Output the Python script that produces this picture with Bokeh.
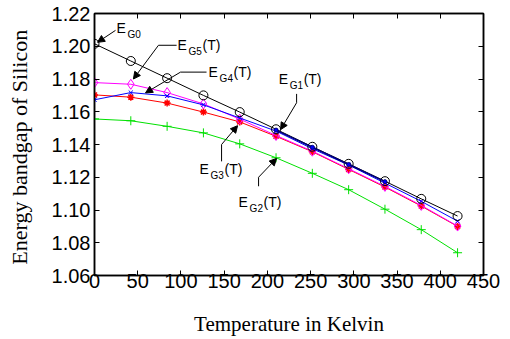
from bokeh.plotting import figure
from bokeh.models import (ColumnDataSource, LinearAxis, FixedTicker, Arrow, NormalHead,
                          NumeralTickFormatter, Range1d, CustomJSTickFormatter)
from bokeh.core.properties import value
from bokeh.embed import file_html
from bokeh.resources import INLINE

# ---- data ----
T = [0, 42, 84, 126, 168, 210, 252, 294, 336, 378, 420]
EG0 = [1.2015, 1.1910, 1.1805, 1.1700, 1.1598, 1.1493, 1.1386, 1.1282, 1.1176, 1.1068, 1.0963]
EG5 = [1.1778, 1.1768, 1.1717, 1.1648, 1.1555, 1.1455, 1.1359, 1.1252, 1.1144, 1.1028, 1.0902]
EG4 = [1.1673, 1.1717, 1.1697, 1.1642, 1.1562, 1.1482, 1.1374, 1.1275, 1.1164, 1.1053, 1.0932]
EG3 = [1.1703, 1.1689, 1.1653, 1.1598, 1.1538, 1.1450, 1.1356, 1.1248, 1.1140, 1.1024, 1.0900]
EG2 = [1.1556, 1.1545, 1.1511, 1.1471, 1.1404, 1.1319, 1.1224, 1.1124, 1.1005, 1.0880, 1.0739]
T1 = [210, 252, 294, 336]
EG1 = [1.1488, 1.1383, 1.1278, 1.1173]

x_ticks = [0, 50, 100, 150, 200, 250, 300, 350, 400, 450]
y_ticks = [1.06, 1.08, 1.10, 1.12, 1.14, 1.16, 1.18, 1.20, 1.22]

# annotation labels
ann_sub = ["G0", "G5", "G4", "G1", "G3", "G2"]
ann_tail = ["", "(T)", "(T)", "(T)", "(T)", "(T)"]
ann_x = [25.5, 96, 132, 213, 121.5, 166.7]
ann_y = [1.2109, 1.2006, 1.1842, 1.1800, 1.1248, 1.1048]
lead_x0 = [74, 99.5, 233.8, 147, 189.8]
lead_y0 = [1.2006, 1.1842, 1.1709, 1.1297, 1.1145]
lead_x1 = [95, 129.6, 233.8, 147, 189.8]
lead_y1 = [1.2006, 1.1842, 1.1655, 1.1400, 1.1200]
arr_x0 = [24.3, 74, 99.5, 233.8, 147, 189.8]
arr_y0 = [1.2097, 1.2006, 1.1842, 1.1655, 1.1400, 1.1200]
arr_x1 = [3.5, 45, 59, 215.3, 165.5, 210.6]
arr_y1 = [1.2024, 1.1800, 1.1715, 1.1491, 1.1515, 1.1315]

p = figure(width=505, height=338, output_backend="svg", toolbar_location=None,
           x_range=Range1d(0, 450), y_range=Range1d(1.06, 1.22),
           min_border_left=94, min_border_right=22, min_border_top=13, min_border_bottom=60,
           background_fill_color="white", border_fill_color="white")
p.grid.visible = False
p.outline_line_color = "black"
p.outline_line_width = 1.5

tick_font = "Liberation Sans"
for ax in (p.xaxis[0], p.yaxis[0]):
    ax.major_tick_in = 5
    ax.major_tick_out = 0
    ax.minor_tick_line_color = None
    ax.axis_line_width = 1.5
    ax.major_label_text_font = tick_font
    ax.major_label_text_font_size = "20px"
    ax.major_label_text_color = "black"
    ax.axis_label_text_font = "Liberation Serif"
    ax.axis_label_text_font_style = "normal"
    ax.axis_label_text_font_size = "21px"
    ax.axis_label_text_color = "black"

p.yaxis.axis_label_text_font_size = "22px"
p.xaxis.ticker = FixedTicker(ticks=x_ticks)
p.yaxis.ticker = FixedTicker(ticks=y_ticks)
p.yaxis.formatter = NumeralTickFormatter(format="0.00")
p.xaxis.axis_label = "Temperature in Kelvin"
p.yaxis.axis_label = "Energy bandgap of  Silicon"
p.xaxis.major_label_standoff = -2
p.yaxis.major_label_standoff = 4
p.xaxis.axis_label_standoff = 21
p.yaxis.axis_label_standoff = 17

# mirrored axes with inward ticks, no labels
blank = CustomJSTickFormatter(code="return ''")
top = LinearAxis(ticker=FixedTicker(ticks=x_ticks), formatter=blank, major_tick_in=5, major_tick_out=0,
                 minor_tick_line_color=None, major_label_text_font_size="1px",
                 major_label_standoff=0, axis_line_width=1.5)
right = LinearAxis(ticker=FixedTicker(ticks=y_ticks), formatter=blank, major_tick_in=5, major_tick_out=0,
                   minor_tick_line_color=None, major_label_text_font_size="1px",
                   major_label_standoff=0, axis_line_width=1.5)
p.add_layout(top, "above")
p.add_layout(right, "right")

# ---- series ----
p.line(T, EG2, color="#00E000", line_width=1)
p.scatter(T, EG2, marker="cross", size=9, line_color="#00E000", line_width=1)

p.line(T, EG3, color="red", line_width=1)
p.scatter(T, EG3, marker="asterisk", size=7, line_color="red", line_width=1.5)

p.line(T, EG5, color="magenta", line_width=1)
p.scatter(T, EG5, marker="diamond", size=10, line_color="magenta", fill_color=None, line_width=1)

p.line(T, EG4, color="blue", line_width=1)
p.scatter(T, EG4, marker="x", size=6, line_color="blue", line_width=1)

p.line(T, EG0, color="black", line_width=1)
p.scatter(T, EG0, marker="circle", size=9, line_color="black", fill_color=None, line_width=1)

p.line(T1, EG1, color="#000080", line_width=1.5)
p.scatter(T1, EG1, marker="circle", size=4, line_color="#000080", fill_color="blue")

# ---- annotations ----
src = ColumnDataSource(dict(x=ann_x, y=ann_y, e=["E"] * len(ann_x), sub=ann_sub, tail=ann_tail))
p.text(x="x", y="y", text="e", source=src, text_font=value(tick_font), text_font_size="14px",
       text_baseline="middle", text_align="left", text_color="black")
p.text(x="x", y="y", text="sub", source=src, text_font=value(tick_font), text_font_size="10px",
       text_baseline="middle", text_align="left", text_color="black", x_offset=11, y_offset=6)
p.text(x="x", y="y", text="tail", source=src, text_font=value(tick_font), text_font_size="14px",
       text_baseline="middle", text_align="left", text_color="black", x_offset=25)

p.segment(lead_x0, lead_y0, lead_x1, lead_y1, color="black", line_width=1)
asrc = ColumnDataSource(dict(x0=arr_x0, y0=arr_y0, x1=arr_x1, y1=arr_y1))
p.add_layout(Arrow(end=NormalHead(size=7, fill_color="black", line_color="black"),
                   x_start="x0", y_start="y0", x_end="x1", y_end="y1", source=asrc,
                   line_color="black", line_width=1))

open("out.html", "w").write(file_html(p, INLINE))
